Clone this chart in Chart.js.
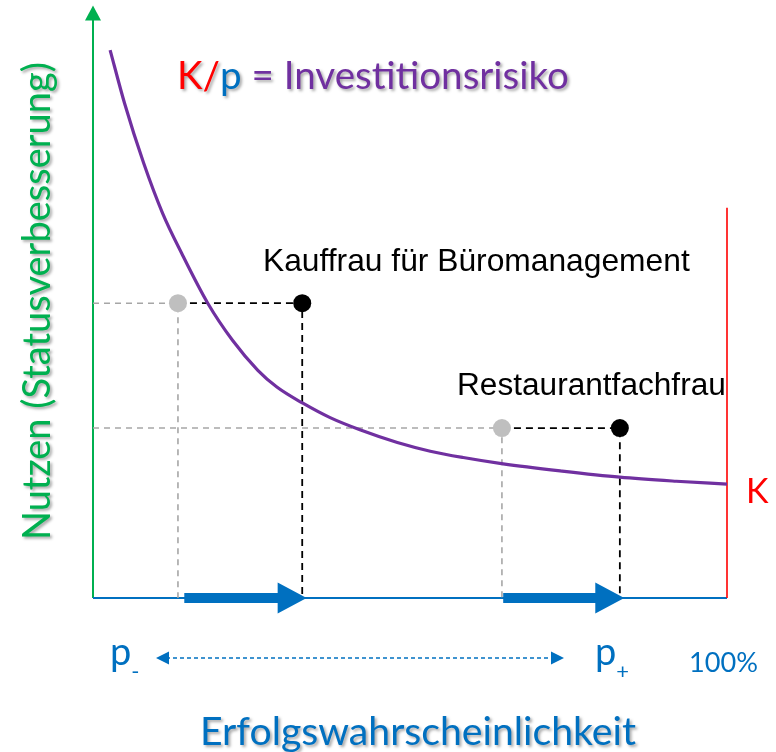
<!DOCTYPE html>
<html>
<head>
<meta charset="utf-8">
<script src="https://cdn.jsdelivr.net/npm/chart.js@4.4.1/dist/chart.umd.min.js"></script>
<style>
  html, body { margin: 0; padding: 0; background: #ffffff; }
  #wrap { width: 776px; height: 752px; }
</style>
</head>
<body>
<div id="wrap"><canvas id="c" width="776" height="752"></canvas></div>
<script>
// ---- data ----
const curveX = [2.7, 5, 8, 11, 14, 18.1, 22, 26, 29, 33.1, 37.4, 42.1, 48, 53.2, 58.4, 64.7, 74, 83.1, 92, 100];
const curveY = [94.8, 85.5, 75.2, 66.5, 59.6, 51.0, 44.6, 39.4, 36.5, 33.7, 31.2, 29.1, 26.9, 25.4, 24.3, 23.2, 21.95, 20.9, 20.2, 19.7];

const jobs = ["Kauffrau für Büromanagement", "Restaurantfachfrau"];
const pMinusX = [13.4, 64.5];   // grey points (before)
const pPlusX  = [33.0, 83.1];   // black points (after)
const jobY    = [51.0, 29.4];   // utility level
const arrowFrom = [14.4, 64.7];
const arrowTo   = [33.7, 83.8];
const kLineX = 100;
const kLineTop = 67.5;
const yAxisTop = 102.5;

const titleParts = [["K", "#FF0000"], ["/", "#FF0000"], ["p", "#0070C0"], [" = Investitionsrisiko", "#7030A0"]];
const yTitle = "Nutzen (Statusverbesserung)";
const xTitle = "Erfolgswahrscheinlichkeit";
const pLabels = ["p", "p"];
const pSubs = ["-", "+"];
const hundred = "100%";
const kLabel = "K";

const GREEN = "#00B050", BLUE = "#0070C0", RED = "#FF0000", PURPLE = "#7030A0";
const SANS = "Lato, 'Open Sans', sans-serif";
const ARIAL = "'Liberation Sans', Arial, sans-serif";

const curveData = curveX.map((x, i) => ({ x, y: curveY[i] }));
const greyGuides = pMinusX.map((x, i) => ({
  label: "g" + i, type: "line",
  data: [{ x: 0, y: jobY[i] }, { x, y: jobY[i] }, { x, y: 0 }],
  borderColor: "#A6A6A6", borderWidth: 1.6, borderDash: [6, 5],
  pointRadius: 0, tension: 0, order: 5
}));
const blackGuides = pPlusX.map((x, i) => ({
  label: "b" + i, type: "line",
  data: [{ x: pMinusX[i], y: jobY[i] }, { x, y: jobY[i] }, { x, y: 0 }],
  borderColor: "#000000", borderWidth: 1.8, borderDash: [7, 5],
  pointRadius: 0, tension: 0, order: 4
}));

function fitSize(ctx, text, family, targetW) {
  ctx.font = "100px " + family;
  return 100 * targetW / ctx.measureText(text).width;
}

const decor = {
  id: "decor",
  beforeDatasetsDraw(chart) {
    const ctx = chart.ctx, xs = chart.scales.x, ys = chart.scales.y;
    const x0 = xs.getPixelForValue(0), y0 = ys.getPixelForValue(0);
    const xTop = ys.getPixelForValue(yAxisTop);
    ctx.save();
    // y axis (green) with arrow head
    ctx.strokeStyle = GREEN; ctx.lineWidth = 2;
    ctx.beginPath(); ctx.moveTo(x0, y0); ctx.lineTo(x0, xTop + 12); ctx.stroke();
    ctx.fillStyle = GREEN;
    ctx.beginPath(); ctx.moveTo(x0, xTop); ctx.lineTo(x0 - 8, xTop + 15); ctx.lineTo(x0 + 8, xTop + 15); ctx.closePath(); ctx.fill();
    // x axis (blue)
    ctx.strokeStyle = BLUE; ctx.lineWidth = 2;
    ctx.beginPath(); ctx.moveTo(x0, y0); ctx.lineTo(xs.getPixelForValue(100), y0); ctx.stroke();
    ctx.restore();
  },
  afterDatasetsDraw(chart) {
    const ctx = chart.ctx, xs = chart.scales.x, ys = chart.scales.y;
    const y0 = ys.getPixelForValue(0);
    ctx.save();
    // thick arrows on the x axis
    ctx.fillStyle = BLUE;
    arrowFrom.forEach((f, i) => {
      const a = xs.getPixelForValue(f), b = xs.getPixelForValue(arrowTo[i]);
      const hl = 29, hh = 15.5, sh = 5;
      ctx.beginPath();
      ctx.moveTo(a, y0 - sh); ctx.lineTo(b - hl, y0 - sh); ctx.lineTo(b - hl, y0 - hh);
      ctx.lineTo(b, y0); ctx.lineTo(b - hl, y0 + hh); ctx.lineTo(b - hl, y0 + sh);
      ctx.lineTo(a, y0 + sh); ctx.closePath(); ctx.fill();
    });
    // dashed double arrow
    const dy = 658, dl = 156, dr = 564;
    ctx.strokeStyle = BLUE; ctx.lineWidth = 1.5; ctx.setLineDash([4, 3]);
    ctx.beginPath(); ctx.moveTo(dl + 10, dy); ctx.lineTo(dr - 10, dy); ctx.stroke();
    ctx.setLineDash([]);
    ctx.beginPath(); ctx.moveTo(dl, dy); ctx.lineTo(dl + 13, dy - 6.5); ctx.lineTo(dl + 13, dy + 6.5); ctx.closePath(); ctx.fill();
    ctx.beginPath(); ctx.moveTo(dr, dy); ctx.lineTo(dr - 13, dy - 6.5); ctx.lineTo(dr - 13, dy + 6.5); ctx.closePath(); ctx.fill();

    ctx.textBaseline = "alphabetic"; ctx.textAlign = "left";
    // shadowed titles
    ctx.save();
    ctx.shadowColor = "rgba(0,0,0,0.35)"; ctx.shadowBlur = 3; ctx.shadowOffsetX = 2; ctx.shadowOffsetY = 2;
    const full = titleParts.map(p => p[0]).join("");
    const ts = fitSize(ctx, full, SANS, 391);
    ctx.font = ts + "px " + SANS;
    let tx = 177;
    titleParts.forEach(([t, c]) => { ctx.fillStyle = c; ctx.fillText(t, tx, 89); tx += ctx.measureText(t).width; });
    // x title
    const xsz = fitSize(ctx, xTitle, SANS, 436);
    ctx.font = xsz + "px " + SANS; ctx.fillStyle = BLUE;
    ctx.fillText(xTitle, 200, 745);
    // y title rotated
    const ysz = fitSize(ctx, yTitle, SANS, 478);
    ctx.font = ysz + "px " + SANS; ctx.fillStyle = GREEN;
    ctx.translate(50, 540); ctx.rotate(-Math.PI / 2);
    ctx.fillText(yTitle, 0, 0);
    ctx.restore();

    // p labels
    ctx.fillStyle = BLUE;
    const pPos = [110, 595];
    pLabels.forEach((p, i) => {
      ctx.font = "38px " + SANS;
      ctx.fillText(p, pPos[i], 665);
      const w = ctx.measureText(p).width;
      ctx.font = "22px " + SANS;
      ctx.fillText(pSubs[i], pPos[i] + w + 0, 679);
    });
    const hs = fitSize(ctx, hundred, SANS, 69);
    ctx.font = hs + "px " + SANS;
    ctx.fillText(hundred, 689, 672);
    // K
    ctx.fillStyle = RED; ctx.font = "34px " + SANS;
    ctx.fillText(kLabel, 746, 503);
    // job labels
    ctx.fillStyle = "#000000";
    const js0 = fitSize(ctx, jobs[0], ARIAL, 427);
    ctx.font = js0 + "px " + ARIAL; ctx.fillText(jobs[0], 263, 271);
    const js1 = fitSize(ctx, jobs[1], ARIAL, 269);
    ctx.font = js1 + "px " + ARIAL; ctx.fillText(jobs[1], 457, 395);
    ctx.restore();
  }
};

new Chart(document.getElementById("c"), {
  type: "line",
  data: {
    datasets: [
      { label: "grey points", type: "scatter", data: pMinusX.map((x, i) => ({ x, y: jobY[i] })),
        pointRadius: 9, pointBackgroundColor: "#BFBFBF", pointBorderWidth: 0, showLine: false, order: 1 },
      { label: "black points", type: "scatter", data: pPlusX.map((x, i) => ({ x, y: jobY[i] })),
        pointRadius: 9, pointBackgroundColor: "#000000", pointBorderWidth: 0, showLine: false, order: 1 },
      { label: "K/p", data: curveData, borderColor: PURPLE, borderWidth: 3.2, pointRadius: 0,
        cubicInterpolationMode: "monotone", order: 2 },
      { label: "K", data: [{ x: kLineX, y: 0 }, { x: kLineX, y: kLineTop }], borderColor: RED,
        borderWidth: 1.6, pointRadius: 0, order: 3 },
      ...greyGuides, ...blackGuides
    ]
  },
  options: {
    responsive: false, animation: false, clip: false,
    layout: { padding: { left: 93, right: 49, top: 20, bottom: 154 } },
    parsing: true,
    scales: {
      x: { type: "linear", min: 0, max: 100, display: false },
      y: { type: "linear", min: 0, max: 100, display: false }
    },
    plugins: { legend: { display: false }, tooltip: { enabled: false }, title: { display: false } }
  },
  plugins: [decor]
});
</script>
</body>
</html>
